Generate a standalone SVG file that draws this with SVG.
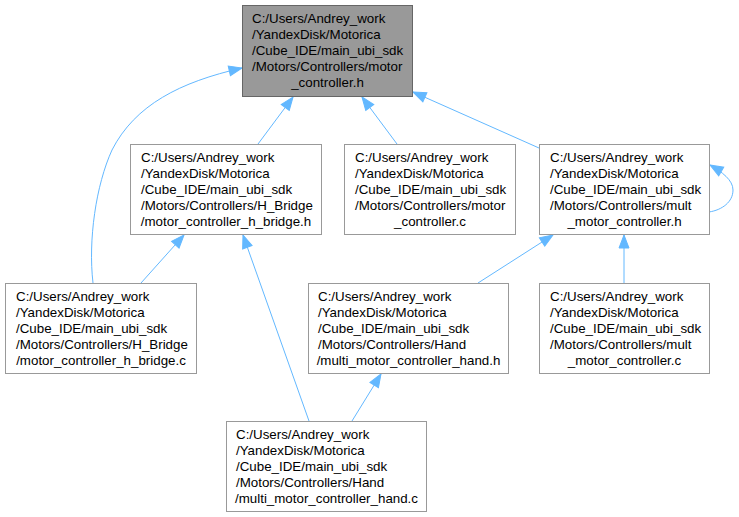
<svg xmlns="http://www.w3.org/2000/svg" width="739" height="517" viewBox="0 0 739 517">
<style>
.n rect{fill:#ffffff;stroke:#999999;stroke-width:1}
#top rect{fill:#999999;stroke:#666666}
text{font-family:"Liberation Sans",Arial,sans-serif;font-size:13.33px;fill:#000000}
.c{text-anchor:middle}
.e path{fill:none;stroke:#63b8ff;stroke-width:1;marker-start:url(#ah)}
</style>
<defs>
<marker id="ah" markerUnits="userSpaceOnUse" markerWidth="14" markerHeight="12" refX="0" refY="0" orient="auto" overflow="visible">
<path d="M0,0 L13,-5 L13,5 Z" fill="#63b8ff" stroke="#63b8ff" stroke-width="1"/>
</marker>
</defs>
<g class="e" id="edges">
<path d="M293,97 L258,144"/>
<path d="M362,97 L397,144"/>
<path d="M413,92 L539,148"/>
<path d="M242,68 C180,82 135,105 112,150 C96,185 88,240 93,283"/>
<path d="M184,235 L141,283"/>
<path d="M243,235 L309,421"/>
<path d="M553,235 L478,283"/>
<path d="M624,235 L624,283"/>
<path d="M381,374 L352,421"/>
<path d="M710,165 C722,172 733,180 733,190 C733,202 722,210 709,212"/>
</g>
<g class="n" id="top">
<rect x="242.5" y="5.5" width="170" height="91"/>
<text x="252" y="23">C:/Users/Andrey_work</text>
<text x="252" y="39">/YandexDisk/Motorica</text>
<text x="252" y="55">/Cube_IDE/main_ubi_sdk</text>
<text x="252" y="71">/Motors/Controllers/motor</text>
<text class="c" x="327.5" y="87">_controller.h</text>
</g>
<g class="n" id="hbh">
<rect x="130.5" y="144.5" width="191" height="90"/>
<text x="141" y="162">C:/Users/Andrey_work</text>
<text x="141" y="178">/YandexDisk/Motorica</text>
<text x="141" y="194">/Cube_IDE/main_ubi_sdk</text>
<text x="141" y="210">/Motors/Controllers/H_Bridge</text>
<text class="c" x="226" y="226">/motor_controller_h_bridge.h</text>
</g>
<g class="n" id="mcc">
<rect x="344.5" y="144.5" width="171" height="90"/>
<text x="355" y="162">C:/Users/Andrey_work</text>
<text x="355" y="178">/YandexDisk/Motorica</text>
<text x="355" y="194">/Cube_IDE/main_ubi_sdk</text>
<text x="355" y="210">/Motors/Controllers/motor</text>
<text class="c" x="430" y="226">_controller.c</text>
</g>
<g class="n" id="mmh">
<rect x="539.5" y="144.5" width="170" height="90"/>
<text x="550" y="162">C:/Users/Andrey_work</text>
<text x="550" y="178">/YandexDisk/Motorica</text>
<text x="550" y="194">/Cube_IDE/main_ubi_sdk</text>
<text x="550" y="210">/Motors/Controllers/mult</text>
<text class="c" x="624.5" y="226">_motor_controller.h</text>
</g>
<g class="n" id="hbc">
<rect x="5.5" y="283.5" width="191" height="90"/>
<text x="16" y="301">C:/Users/Andrey_work</text>
<text x="16" y="317">/YandexDisk/Motorica</text>
<text x="16" y="333">/Cube_IDE/main_ubi_sdk</text>
<text x="16" y="349">/Motors/Controllers/H_Bridge</text>
<text class="c" x="101" y="365">/motor_controller_h_bridge.c</text>
</g>
<g class="n" id="handh">
<rect x="308.5" y="283.5" width="200" height="90"/>
<text x="318" y="301">C:/Users/Andrey_work</text>
<text x="318" y="317">/YandexDisk/Motorica</text>
<text x="318" y="333">/Cube_IDE/main_ubi_sdk</text>
<text x="318" y="349">/Motors/Controllers/Hand</text>
<text class="c" x="408.5" y="365">/multi_motor_controller_hand.h</text>
</g>
<g class="n" id="mmc">
<rect x="539.5" y="283.5" width="170" height="90"/>
<text x="550" y="301">C:/Users/Andrey_work</text>
<text x="550" y="317">/YandexDisk/Motorica</text>
<text x="550" y="333">/Cube_IDE/main_ubi_sdk</text>
<text x="550" y="349">/Motors/Controllers/mult</text>
<text class="c" x="624.5" y="365">_motor_controller.c</text>
</g>
<g class="n" id="handc">
<rect x="226.5" y="421.5" width="200" height="90"/>
<text x="236" y="439">C:/Users/Andrey_work</text>
<text x="236" y="455">/YandexDisk/Motorica</text>
<text x="236" y="471">/Cube_IDE/main_ubi_sdk</text>
<text x="236" y="487">/Motors/Controllers/Hand</text>
<text class="c" x="326.5" y="503">/multi_motor_controller_hand.c</text>
</g>
</svg>
